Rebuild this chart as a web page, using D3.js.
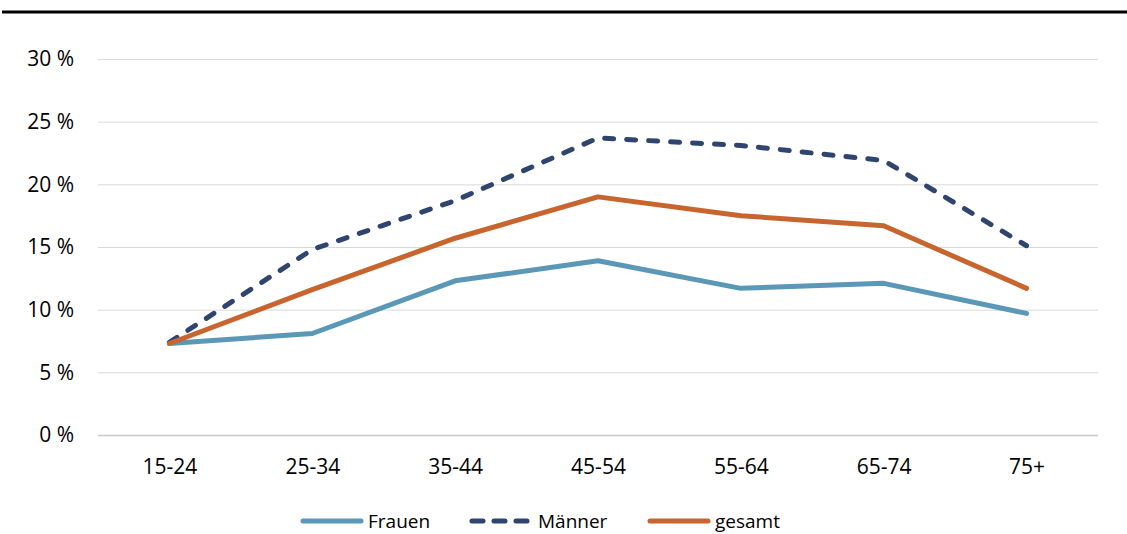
<!DOCTYPE html>
<html>
<head>
<meta charset="utf-8">
<script src="https://cdn.jsdelivr.net/npm/d3@7"></script>
<style>
  body { margin: 0; background: #fff; }
  svg { display: block; }
  svg text { font-family: "Open Sans", "Noto Sans", sans-serif; }
</style>
</head>
<body>
<svg id="chart" width="1127" height="534"></svg>
<script>
// age groups on the x axis
var ageGroups = ["15-24", "25-34", "35-44", "45-54", "55-64", "65-74", "75+"];

// values in percent
var frauen = [7.3, 8.1, 12.3, 13.9, 11.7, 12.1, 9.7];
var maenner = [7.4, 14.8, 18.7, 23.7, 23.1, 21.9, 15.1];
var gesamt = [7.3, 11.6, 15.7, 19.0, 17.5, 16.7, 11.7];

var yTicks = [0, 5, 10, 15, 20, 25, 30];

var series = [
    {name: "Frauen", values: frauen, color: "#5b97b6", dash: null},
    {name: "Männer", values: maenner, color: "#2f4570", dash: "9,13"},
    {name: "gesamt", values: gesamt, color: "#c8652f", dash: null}
];

var svg = d3.select("#chart");

var margin = {left: 98, right: 29, top: 59, bottom: 99};
var W = +svg.attr("width"), H = +svg.attr("height");

var x = d3.scalePoint().domain(ageGroups).range([margin.left, W - margin.right]).padding(0.5);
var y = d3.scaleLinear().domain([0, 30]).range([H - margin.bottom, margin.top]);

// top rule
svg.append("line")
    .attr("x1", 2).attr("x2", W)
    .attr("y1", 12).attr("y2", 12)
    .attr("stroke", "#000").attr("stroke-width", 3);

// gridlines + y labels
var yAxis = d3.axisLeft(y)
    .tickValues(yTicks)
    .tickSize(-(W - margin.left - margin.right))
    .tickPadding(24)
    .tickFormat(function(d){ return d + " %"; });

var gy = svg.append("g")
    .attr("transform", "translate(" + margin.left + ",0)")
    .call(yAxis);
gy.attr("font-family", null);
gy.select(".domain").remove();
gy.selectAll(".tick line")
    .attr("stroke", function(d){ return d === 0 ? "#c8c8c8" : "#d9d9d9"; })
    .attr("stroke-width", function(d){ return d === 0 ? 1.5 : 1; });
gy.selectAll(".tick text")
    .attr("fill", "#000")
    .style("font-size", "21px");

// x labels
var xAxis = d3.axisBottom(x).tickSize(0).tickPadding(24);
var gx = svg.append("g")
    .attr("transform", "translate(0," + (H - margin.bottom) + ")")
    .call(xAxis);
gx.attr("font-family", null);
gx.select(".domain").remove();
gx.selectAll(".tick text")
    .attr("fill", "#000")
    .style("font-size", "21px");

var line = d3.line()
    .x(function(d, i){ return x(ageGroups[i]); })
    .y(function(d){ return y(d); });

series.forEach(function(s){
    svg.append("path")
        .datum(s.values)
        .attr("fill", "none")
        .attr("stroke", s.color)
        .attr("stroke-width", 5)
        .attr("stroke-linejoin", "round")
        .attr("stroke-linecap", "round")
        .attr("stroke-dasharray", s.dash)
        .attr("d", line);
});

// legend
var legendX = [301, 470, 648];
var legend = svg.append("g");
series.forEach(function(s, i){
    var g = legend.append("g").attr("transform", "translate(" + legendX[i] + ",521)");
    g.append("line")
        .attr("x1", 2).attr("x2", 60)
        .attr("stroke", s.color)
        .attr("stroke-width", 5)
        .attr("stroke-linecap", "round")
        .attr("stroke-dasharray", s.dash ? "11,11" : null);
    g.append("text")
        .attr("x", s.dash ? 68 : 67)
        .attr("dy", "0.35em")
        .style("font-size", "19px")
        .text(s.name);
});
</script>
</body>
</html>
